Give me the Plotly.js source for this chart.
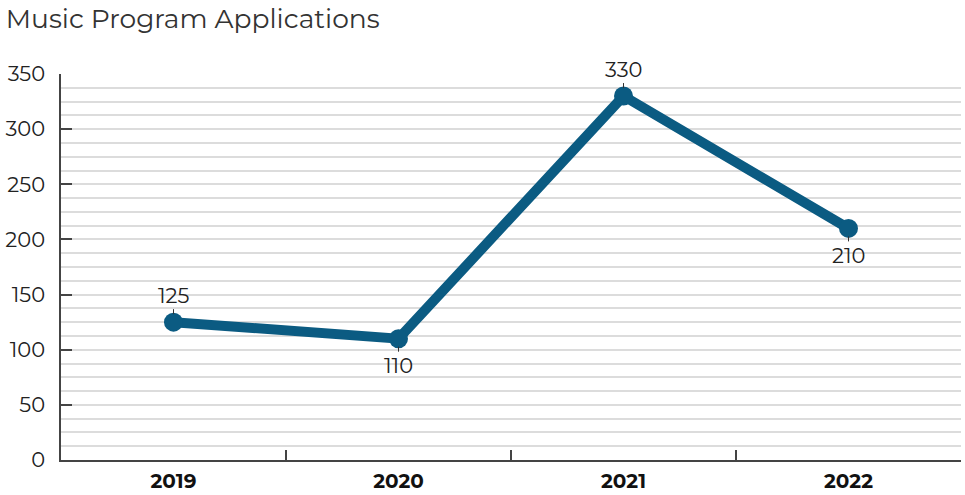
<!DOCTYPE html>
<html>
<head>
<meta charset="utf-8">
<script src="https://cdn.plot.ly/plotly-3.0.1.min.js"></script>
<style>html,body{margin:0;padding:0;background:#fff;}#chart{width:965px;height:495px;}</style>
</head>
<body>
<div id="chart"></div>
<script>
const years = ["2019", "2020", "2021", "2022"];
const applications = [125, 110, 330, 210];
const labelSide = [-1, 1, -1, 1]; // -1 above, 1 below

const lineColor = "#0b5b82";
const fontFam = "Montserrat, 'Open Sans', 'Noto Sans', sans-serif";

const trace = {
  x: years,
  y: applications,
  type: "scatter",
  mode: "lines+markers",
  line: {color: lineColor, width: 10},
  marker: {color: lineColor, size: 19},
  hoverinfo: "skip",
  cliponaxis: false
};

const annotations = years.map((yr, i) => ({
  x: i, y: applications[i], xref: "x", yref: "y",
  text: String(applications[i]),
  showarrow: true, arrowhead: 0, arrowwidth: 1, arrowcolor: "#333",
  ax: 0, ay: 27 * labelSide[i], standoff: 8,
  font: {family: fontFam, size: 21, color: "#222"}
}));

const layout = {
  width: 965, height: 495,
  margin: {l: 61, r: 4, t: 74, b: 35},
  paper_bgcolor: "#fff", plot_bgcolor: "#fff",
  showlegend: false,
  title: {
    text: "Music Program Applications",
    x: 0.006, xanchor: "left", xref: "container",
    y: 0.962, yanchor: "middle", yref: "container",
    font: {family: fontFam, size: 26.5, color: "#333"}
  },
  xaxis: {
    type: "category",
    tickson: "boundaries",
    ticks: "inside", ticklen: 10, tickwidth: 1.5, tickcolor: "#444",
    showline: true, linecolor: "#444", linewidth: 1.5,
    showgrid: false, zeroline: false,
    tickfont: {family: fontFam, size: 20, color: "#111", weight: "bold"},
    ticklabelstandoff: 2,
    range: [-0.5, 3.5]
  },
  yaxis: {
    range: [0, 350], dtick: 50, tick0: 0,
    ticks: "inside", ticklen: 11, tickwidth: 1.5, tickcolor: "#444",
    showline: true, linecolor: "#444", linewidth: 1.5,
    showgrid: true, gridcolor: "#dcdcdc", gridwidth: 1.5,
    zeroline: false,
    minor: {dtick: 12.5, showgrid: true, gridcolor: "#dcdcdc", gridwidth: 1.5},
    tickfont: {family: fontFam, size: 21, color: "#222"},
    ticklabelstandoff: 10
  },
  annotations: annotations
};

Plotly.newPlot("chart", [trace], layout, {displayModeBar: false});
</script>
</body>
</html>
